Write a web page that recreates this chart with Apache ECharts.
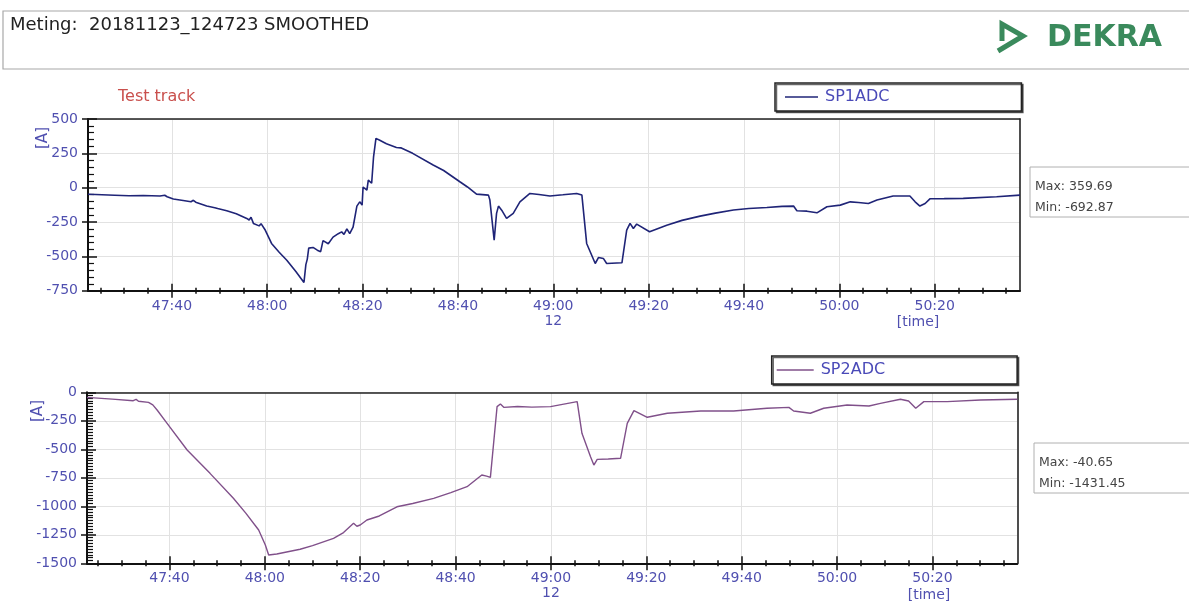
<!DOCTYPE html>
<html>
<head>
<meta charset="utf-8">
<script src="https://cdn.jsdelivr.net/npm/echarts@6/dist/echarts.min.js"></script>
<style>
html,body{margin:0;padding:0;background:#fff;}
#chart{width:1189px;height:606px;}
</style>
</head>
<body>
<div id="chart"></div>
<script>
// time in seconds after 12:47:00
const sp1Time  = [22.4,24,28,31,34,37.5,38.5,39,40.3,42.7,44,44.5,45,47.3,49,49.3,49.6,51.5,53.5,55.7,56.2,56.6,57.1,58.3,58.7,59.5,60.9,62.5,64.1,66,67.7,68.1,68.4,68.7,69.6,70.5,71.2,71.7,72.8,73.8,74.9,75.6,76.1,76.7,77.3,78.0,78.8,79.4,79.9,80.1,80.9,81.2,81.9,82.3,82.8,83.6,85,87.1,88,90.5,94.8,97,100.4,102,103.9,106.4,106.7,107.6,108.1,108.5,109.3,110.2,111.6,113.0,115.1,117,119.3,122,124.9,126.0,127.0,128.8,129.5,130.5,131.2,134.4,135.4,136.1,136.8,137.5,140.2,143.8,147,150.8,154,157.8,161,164.8,168,170.4,171.1,173.2,175.3,177.4,180.2,182.3,184,186.1,187.9,191.3,194.8,195.9,196.9,198.0,199.0,202,206.0,213.0,217.9];
const sp1Value = [-48,-50,-55,-59,-57,-61,-55,-66,-83,-95,-102,-92,-106,-134,-146,-138,-152,-168,-190,-224,-235,-215,-260,-278,-262,-304,-406,-470,-528,-610,-690,-560,-520,-440,-435,-455,-466,-385,-408,-360,-335,-322,-340,-300,-335,-288,-134,-103,-127,5,-18,55,32,225,359,345,320,292,290,250,165,125,43,5,-47,-54,-90,-382,-187,-134,-170,-224,-187,-103,-42,-50,-61,-52,-42,-54,-406,-552,-508,-515,-552,-547,-309,-260,-297,-265,-321,-273,-238,-207,-185,-163,-152,-144,-136,-134,-168,-171,-183,-139,-127,-103,-108,-115,-90,-61,-61,-103,-134,-115,-81,-80,-78,-66,-54];

const sp2Time  = [22.7,23.4,28,32.4,33,33.5,35.6,36.5,37.4,39.5,43.7,48.5,53.4,56,58.7,60.1,60.8,62.5,67.4,70,74.4,76.5,78.6,79.3,80.0,81.4,84,87.7,91,95.4,99,102.4,105.5,106.5,107.3,108.7,109.4,110.1,113,116,119.9,125.5,126.5,128.3,129.0,129.7,132,134.6,136.0,137.4,140.2,144.4,151.4,158.3,165.3,169.9,170.9,174.4,177.2,182.1,186.7,189.1,193.3,195.0,196.5,198.2,203.1,210.1,217.8];
const sp2Value = [-45,-47,-60,-74,-62,-78,-88,-110,-155,-272,-506,-711,-930,-1060,-1208,-1340,-1427,-1418,-1377,-1345,-1281,-1230,-1149,-1175,-1164,-1120,-1085,-1004,-975,-930,-880,-828,-725,-735,-746,-126,-103,-132,-125,-130,-126,-82,-360,-565,-638,-588,-585,-579,-272,-161,-219,-184,-164,-164,-140,-132,-164,-184,-140,-111,-120,-97,-61,-76,-140,-82,-82,-68,-61];

const majorTicks = [40,60,80,100,120,140,160,180,200];
const minorTicks = [25,30,35,40,45,50,55,60,65,70,75,80,85,90,95,100,105,110,115,120,125,130,135,140,145,150,155,160,165,170,175,180,185,190,195,200,205,210,215];
const hourTickValue = 120;
const hourLabel = '12';

const titleText = 'Meting:  20181123_124723 SMOOTHED';
const stats1 = ['Max: 359.69', 'Min: -692.87'];
const stats2 = ['Max: -40.65', 'Min: -1431.45'];

const FONT = 'DejaVu Sans';
const LBL = '#5050b0';

function pairs(t, v){ return t.map((x,i)=>[x, v[i]]); }
function fmt(val){
  const m = 47 + Math.floor(val/60);
  const s = Math.round(val - Math.floor(val/60)*60);
  let txt = m + ':' + (s<10?'0':'') + s;
  if (Math.abs(val - hourTickValue) < 0.01) txt += '\n' + hourLabel;
  return txt;
}

function makeX(grid, min, max){
  const base = {type:'value', gridIndex:grid, min:min, max:max, position:'bottom',
    splitNumber:10, minInterval:20, maxInterval:20};
  const hidden = {show:false, onZero:false};
  return [
    Object.assign({}, base, {
      axisLine:{show:true, onZero:false, lineStyle:{color:'#111', width:2}},
      axisTick:{show:true, customValues:majorTicks, length:7, lineStyle:{color:'#111', width:1.5}},
      axisLabel:{show:true, customValues:majorTicks, formatter:fmt, color:LBL, fontFamily:FONT, fontSize:14, margin:8, lineHeight:15},
      splitLine:{show:true, lineStyle:{color:'#e2e2e2', width:1}}
    }),
    Object.assign({}, base, {
      axisLine:hidden, axisLabel:{show:false}, splitLine:{show:false},
      axisTick:{show:true, inside:true, customValues:majorTicks, length:7, lineStyle:{color:'#111', width:1.5}}
    }),
    Object.assign({}, base, {
      axisLine:hidden, axisLabel:{show:false}, splitLine:{show:false},
      axisTick:{show:true, inside:true, customValues:minorTicks, length:3, lineStyle:{color:'#111', width:1.5}}
    }),
    Object.assign({}, base, {
      axisLine:hidden, axisLabel:{show:false}, splitLine:{show:false},
      axisTick:{show:true, inside:false, customValues:minorTicks, length:3, lineStyle:{color:'#111', width:1.5}}
    }),
    Object.assign({}, base, {
      position:'top',
      axisLine:{show:true, onZero:false, lineStyle:{color:'#222', width:1.6}},
      axisLabel:{show:false}, splitLine:{show:false}, axisTick:{show:false}
    })
  ];
}
function makeY(grid, min, max, minorSplit){
  const base = {type:'value', gridIndex:grid, min:min, max:max, interval:250, position:'left'};
  return [
    Object.assign({}, base, {
      axisLine:{show:true, onZero:false, lineStyle:{color:'#111', width:2}},
      axisTick:{show:true, length:6, lineStyle:{color:'#111', width:1.5}},
      axisLabel:{show:true, color:LBL, fontFamily:FONT, fontSize:14, margin:10, formatter:(v)=>String(v)},
      splitLine:{show:true, lineStyle:{color:'#e2e2e2', width:1}}
    }),
    Object.assign({}, base, {
      axisLine:{show:false, onZero:false}, axisLabel:{show:false}, splitLine:{show:false},
      axisTick:{show:true, inside:true, length:9, lineStyle:{color:'#111', width:1.5}},
      minorTick:{show:true, splitNumber:minorSplit, length:6, lineStyle:{color:'#111', width:1.2}}
    }),
    Object.assign({}, base, {
      position:'right',
      axisLine:{show:true, onZero:false, lineStyle:{color:'#222', width:1.6}},
      axisLabel:{show:false}, splitLine:{show:false}, axisTick:{show:false}
    })
  ];
}

const xAxes = makeX(0, 22.4, 217.9).concat(makeX(1, 22.7, 217.8));
const yAxes = makeY(0, -750, 500, 5).concat(makeY(1, -1500, 0, 10));

function statsBox(x, y, lines){
  return {type:'group', children:[
    {type:'rect', shape:{x:x, y:y, width:200, height:50}, style:{fill:'#fff', stroke:'#b0b0b0', lineWidth:1}},
    {type:'text', x:x+5, y:y+20, style:{text:lines[0], fill:'#444', font:'12.5px "DejaVu Sans"', textVerticalAlign:'middle'}},
    {type:'text', x:x+5, y:y+41, style:{text:lines[1], fill:'#444', font:'12.5px "DejaVu Sans"', textVerticalAlign:'middle'}}
  ]};
}

const chart = echarts.init(document.getElementById('chart'), null, {renderer:'canvas'});
chart.setOption({
  backgroundColor:'#fff',
  animation:false,
  grid:[
    {left:88, top:119, right:169, bottom:315.3, show:false},
    {left:87, top:392.3, right:171.7, bottom:42.7, show:false}
  ],
  xAxis: xAxes,
  yAxis: yAxes,
  legend:[
    {data:['SP1ADC'], left:775, top:83, padding:[6,132,6,10], icon:'rect', itemWidth:33, itemHeight:1.5, itemGap:5,
     borderColor:'#222', borderWidth:1.5, backgroundColor:'#fff', shadowColor:'rgba(0,0,0,0.6)', shadowOffsetX:1.5, shadowOffsetY:1.5, shadowBlur:0,
     textStyle:{color:'#4a4ab8', fontFamily:FONT, fontSize:16, lineHeight:16, padding:[0,0,0,2]}},
    {data:['SP2ADC'], left:771.7, top:356, padding:[6,132,6,5], icon:'rect', itemWidth:37, itemHeight:1.5, itemGap:5,
     borderColor:'#222', borderWidth:1.5, backgroundColor:'#fff', shadowColor:'rgba(0,0,0,0.6)', shadowOffsetX:1.5, shadowOffsetY:1.5, shadowBlur:0,
     textStyle:{color:'#4a4ab8', fontFamily:FONT, fontSize:16, lineHeight:16, padding:[0,0,0,2]}}
  ],
  series:[
    {name:'SP1ADC', type:'line', xAxisIndex:0, yAxisIndex:0, data:pairs(sp1Time, sp1Value), symbol:'none', showSymbol:false,
     lineStyle:{color:'#1f2477', width:1.6}, itemStyle:{color:'#1f2477'}},
    {name:'SP2ADC', type:'line', xAxisIndex:5, yAxisIndex:3, data:pairs(sp2Time, sp2Value), symbol:'none', showSymbol:false,
     lineStyle:{color:'#80508a', width:1.4}, itemStyle:{color:'#80508a'}}
  ],
  graphic:[
    {type:'rect', shape:{x:3, y:11, width:1200, height:58}, style:{fill:'none', stroke:'#a8a8a8', lineWidth:1.2}},
    {type:'text', x:10, y:25, style:{text:titleText, fill:'#222', font:'18px "DejaVu Sans"', textVerticalAlign:'middle'}},
    {type:'polyline', shape:{points:[[1002,41],[1002,24],[1023,36],[998,51]]}, style:{stroke:'#3a8a5c', lineWidth:5, fill:'none', lineJoin:'miter'}},
    {type:'text', x:1047, y:38, style:{text:'DEKRA', fill:'#3a8a5c', font:'bold 30px "DejaVu Sans"', textVerticalAlign:'middle'}},
    {type:'text', x:118, y:97, style:{text:'Test track', fill:'#c9504d', font:'16px "DejaVu Sans"', textVerticalAlign:'middle'}},
    {type:'text', x:43, y:138, rotation:Math.PI/2, style:{text:'[A]', fill:LBL, font:'15px "DejaVu Sans"', textAlign:'center', textVerticalAlign:'middle'}},
    {type:'text', x:38, y:411, rotation:Math.PI/2, style:{text:'[A]', fill:LBL, font:'15px "DejaVu Sans"', textAlign:'center', textVerticalAlign:'middle'}},
    {type:'text', x:918, y:322, style:{text:'[time]', fill:LBL, font:'14px "DejaVu Sans"', textAlign:'center', textVerticalAlign:'middle'}},
    {type:'text', x:929, y:595, style:{text:'[time]', fill:LBL, font:'14px "DejaVu Sans"', textAlign:'center', textVerticalAlign:'middle'}},
    statsBox(1030, 167, stats1),
    statsBox(1034, 443, stats2)
  ]
});
</script>
</body>
</html>
